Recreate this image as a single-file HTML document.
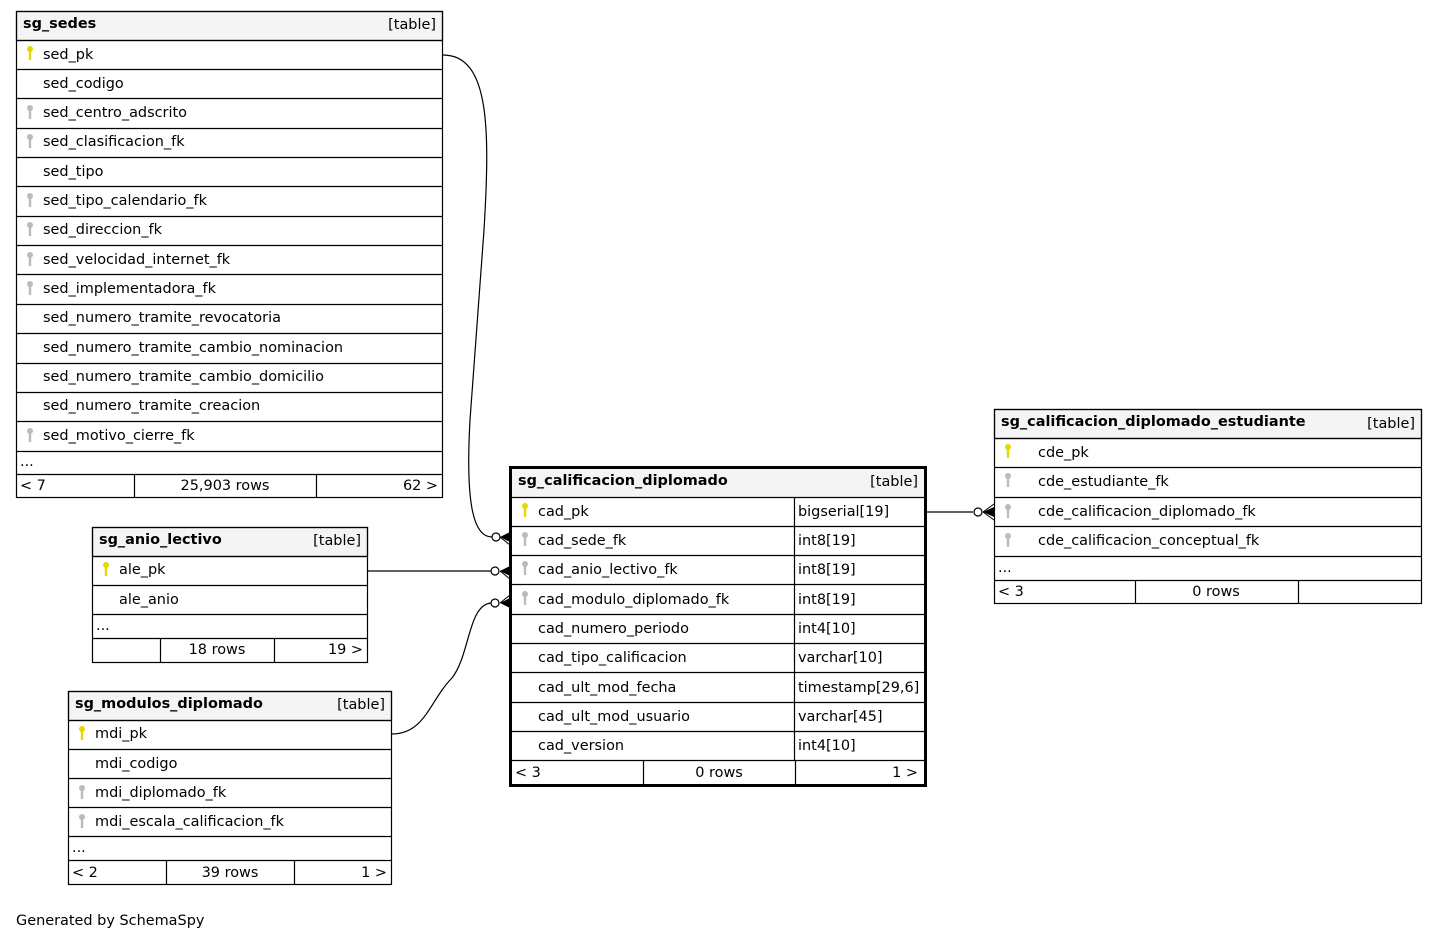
<!DOCTYPE html>
<html><head><meta charset="utf-8"><style>
html,body{margin:0;padding:0;background:#fff;width:1437px;height:940px;overflow:hidden}
svg text{font-family:"DejaVu Sans","Liberation Sans",sans-serif;font-size:14.45px;fill:#000}
.b{font-weight:bold}
</style></head><body>
<svg width="1437" height="940" xmlns="http://www.w3.org/2000/svg">
<defs>
<g id="kp"><circle cx="0" cy="1" r="3" fill="#e6d800"/><rect x="-1.2" y="1" width="2.4" height="11" fill="#e6d800"/></g>
<g id="kf"><circle cx="0" cy="1" r="3" fill="#bbb"/><rect x="-1.2" y="1" width="2.4" height="11" fill="#bbb"/></g>
</defs>
<g fill="none" stroke="#000" stroke-width="1.2">
<rect x="16.5" y="11.5" width="426" height="29" fill="#f4f4f4"/>
<rect x="16.5" y="11.5" width="426" height="486"/>
<path d="M16 40.5H442M16 69.5H442M16 98.5H442M16 128.5H442M16 157.5H442M16 186.5H442M16 216.5H442M16 245.5H442M16 274.5H442M16 304.5H442M16 333.5H442M16 363.5H442M16 392.5H442M16 421.5H442M16 451.5H442M16 474.5H442M134.5 474V498M316.5 474V498"/>
<rect x="92.5" y="527.5" width="275" height="29" fill="#f4f4f4"/>
<rect x="92.5" y="527.5" width="275" height="135"/>
<path d="M92 556.5H368M92 585.5H368M92 614.5H368M92 638.5H368M160.5 638V662M274.5 638V662"/>
<rect x="68.5" y="691.5" width="323" height="29" fill="#f4f4f4"/>
<rect x="68.5" y="691.5" width="323" height="193"/>
<path d="M68 720.5H392M68 749.5H392M68 778.5H392M68 807.5H392M68 836.5H392M68 860.5H392M166.5 860V885M294.5 860V885"/>
<rect x="994.5" y="409.5" width="427" height="29" fill="#f4f4f4"/>
<rect x="994.5" y="409.5" width="427" height="194"/>
<path d="M994 438.5H1422M994 467.5H1422M994 497.5H1422M994 526.5H1422M994 556.5H1422M994 580.5H1422M1135.5 580V604M1298.5 580V604"/>
<rect x="511" y="468" width="415" height="29" fill="#f4f4f4" stroke="none"/>
<path d="M510 497.5H926M510 526.5H926M510 555.5H926M510 584.5H926M510 614.5H926M510 643.5H926M510 672.5H926M510 702.5H926M510 731.5H926M510 760.5H926M794.5 497V761M643.5 761V785M795.5 761V785"/>
<rect x="510.5" y="467.5" width="415" height="318" stroke-width="3"/>
<path d="M443 55C490 55 490 130 484 230L470 420C465 510 475 537 492 537"/>
<path d="M368 571H491"/>
<path d="M392 734C425 734 430 700 452 678C470 655 468 605 491 603"/>
<path d="M926 512H973"/>
<circle cx="496" cy="537" r="4" fill="#fff"/>
<circle cx="495" cy="571" r="4" fill="#fff"/>
<circle cx="495" cy="603" r="4" fill="#fff"/>
<circle cx="978" cy="512" r="4" fill="#fff"/>
</g>
<g fill="#000">
<path d="M500 537L510 532V542Z"/><path d="M500 537L510 545" stroke="#000"/>
<path d="M500 571L510 566V576Z"/><path d="M500 571L510 579" stroke="#000"/>
<path d="M500 603L510 598V608Z"/><path d="M500 603L510 595" stroke="#000"/>
<path d="M983 512L994 507V517Z"/><path d="M983 512L994 504M983 512L994 520" stroke="#000"/>
</g>
<use href="#kp" x="30" y="48"/><use href="#kf" x="30" y="107"/><use href="#kf" x="30" y="136"/>
<use href="#kf" x="30" y="195"/><use href="#kf" x="30" y="224"/><use href="#kf" x="30" y="254"/>
<use href="#kf" x="30" y="283"/><use href="#kf" x="30" y="430"/>
<use href="#kp" x="106" y="564"/>
<use href="#kp" x="82" y="728"/><use href="#kf" x="82" y="787"/><use href="#kf" x="82" y="816"/>
<use href="#kp" x="525" y="505"/><use href="#kf" x="525" y="534"/><use href="#kf" x="525" y="563"/><use href="#kf" x="525" y="593"/>
<use href="#kp" x="1008" y="446"/><use href="#kf" x="1008" y="475"/><use href="#kf" x="1008" y="506"/><use href="#kf" x="1008" y="535"/>
<text x="23" y="28" class="b">sg_sedes</text><text x="436" y="29" text-anchor="end">[table]</text>
<text x="43" y="59">sed_pk</text><text x="43" y="88">sed_codigo</text><text x="43" y="117">sed_centro_adscrito</text>
<text x="43" y="146">sed_clasificacion_fk</text><text x="43" y="176">sed_tipo</text><text x="43" y="205">sed_tipo_calendario_fk</text>
<text x="43" y="234">sed_direccion_fk</text><text x="43" y="264">sed_velocidad_internet_fk</text><text x="43" y="293">sed_implementadora_fk</text>
<text x="43" y="322">sed_numero_tramite_revocatoria</text><text x="43" y="352">sed_numero_tramite_cambio_nominacion</text>
<text x="43" y="381">sed_numero_tramite_cambio_domicilio</text><text x="43" y="410">sed_numero_tramite_creacion</text>
<text x="43" y="440">sed_motivo_cierre_fk</text><text x="20" y="466">...</text>
<text x="20" y="490">&lt; 7</text><text x="225" y="490" text-anchor="middle">25,903 rows</text><text x="438" y="490" text-anchor="end">62 &gt;</text>
<text x="99" y="544" class="b">sg_anio_lectivo</text><text x="361" y="545" text-anchor="end">[table]</text>
<text x="119" y="574">ale_pk</text><text x="119" y="604">ale_anio</text><text x="96" y="630">...</text>
<text x="217" y="654" text-anchor="middle">18 rows</text><text x="363" y="654" text-anchor="end">19 &gt;</text>
<text x="75" y="708" class="b">sg_modulos_diplomado</text><text x="385" y="709" text-anchor="end">[table]</text>
<text x="95" y="738">mdi_pk</text><text x="95" y="768">mdi_codigo</text><text x="95" y="797">mdi_diplomado_fk</text>
<text x="95" y="826">mdi_escala_calificacion_fk</text><text x="72" y="852">...</text>
<text x="72" y="877">&lt; 2</text><text x="230" y="877" text-anchor="middle">39 rows</text><text x="387" y="877" text-anchor="end">1 &gt;</text>
<text x="518" y="485" class="b">sg_calificacion_diplomado</text><text x="918" y="486" text-anchor="end">[table]</text>
<text x="538" y="516">cad_pk</text><text x="798" y="516">bigserial[19]</text>
<text x="538" y="545">cad_sede_fk</text><text x="798" y="545">int8[19]</text>
<text x="538" y="574">cad_anio_lectivo_fk</text><text x="798" y="574">int8[19]</text>
<text x="538" y="604">cad_modulo_diplomado_fk</text><text x="798" y="604">int8[19]</text>
<text x="538" y="633">cad_numero_periodo</text><text x="798" y="633">int4[10]</text>
<text x="538" y="662">cad_tipo_calificacion</text><text x="798" y="662">varchar[10]</text>
<text x="538" y="692">cad_ult_mod_fecha</text><text x="798" y="692">timestamp[29,6]</text>
<text x="538" y="721">cad_ult_mod_usuario</text><text x="798" y="721">varchar[45]</text>
<text x="538" y="750">cad_version</text><text x="798" y="750">int4[10]</text>
<text x="515" y="777">&lt; 3</text><text x="719" y="777" text-anchor="middle">0 rows</text><text x="918" y="777" text-anchor="end">1 &gt;</text>
<text x="1001" y="426" class="b">sg_calificacion_diplomado_estudiante</text><text x="1415" y="428" text-anchor="end">[table]</text>
<text x="1038" y="457">cde_pk</text><text x="1038" y="486">cde_estudiante_fk</text>
<text x="1038" y="516">cde_calificacion_diplomado_fk</text><text x="1038" y="545">cde_calificacion_conceptual_fk</text>
<text x="998" y="572">...</text>
<text x="998" y="596">&lt; 3</text><text x="1216" y="596" text-anchor="middle">0 rows</text>
<text x="16" y="925">Generated by SchemaSpy</text>
</svg>
</body></html>
